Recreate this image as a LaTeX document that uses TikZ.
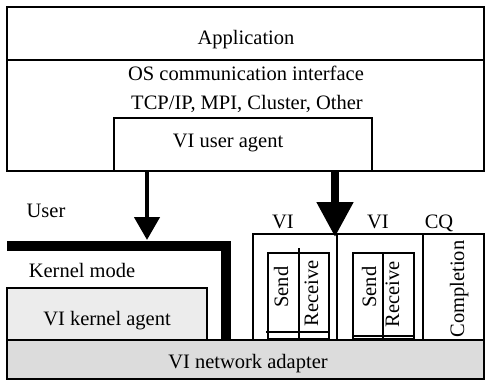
\documentclass[tikz,border=0pt]{standalone}
\usepackage{fontspec}
\setmainfont{Liberation Serif}
\usetikzlibrary{arrows.meta}
\definecolor{kgray}{RGB}{236,236,236}
\definecolor{agray}{RGB}{220,220,220}
\begin{document}
\begin{tikzpicture}[x=1pt,y=-1pt,
  lbl/.style={inner sep=0pt,anchor=base,font=\fontsize{20.5}{24}\selectfont},
  box/.style={draw,line width=1.3pt,inner sep=0pt,outer sep=0pt},
  thin/.style={line width=1.3pt}]
\useasboundingbox (0,0) rectangle (485,380);
% top block
\node[box,anchor=north west,minimum width=477pt,minimum height=53pt] (app) at (7,7) {};
\node[box,anchor=north west,minimum width=477pt,minimum height=111pt] (os) at (7,60) {};
\node[box,anchor=north west,minimum width=258pt,minimum height=53pt] (ua) at (114,118) {};
\node[lbl] (tapp) at (246,45) {Application};
\node[lbl] (tos) at (246,80) {OS communication interface};
\node[lbl] (ttcp) at (247,109) {TCP/IP, MPI, Cluster, Other};
\node[lbl] (tua) at (228,147) {VI user agent};
% labels
\node[lbl] (tuser) at (46,217) {User};
\node[lbl] (tkm) at (82,277) {Kernel mode};
% kernel agent and adapter
\node[box,fill=kgray,anchor=north west,minimum width=200pt,minimum height=52pt] (ka) at (7,288) {};
\node[lbl] (tka) at (107,325) {VI kernel agent};
\node[box,fill=agray,anchor=north west,minimum width=477pt,minimum height=39pt] (na) at (7,340) {};
\node[lbl] (tna) at (248,368) {VI network adapter};
% VI / CQ boxes
\node[box,anchor=north west,minimum width=84pt,minimum height=106pt] (vi1) at (253,234) {};
\node[box,anchor=north west,minimum width=86pt,minimum height=106pt] (vi2) at (337,234) {};
\node[box,anchor=north west,minimum width=61pt,minimum height=106pt] (cq) at (423,234) {};
\node[lbl] (tvi1) at (283,228) {VI};
\node[lbl] (tvi2) at (378,228) {VI};
\node[lbl] (tcq) at (439,228) {CQ};
% inner queues
\node[box,anchor=north west,minimum width=61pt,minimum height=86pt] (q1) at (268,253) {};
\node[box,anchor=north west,minimum width=61pt,minimum height=86pt] (q2) at (353,253) {};
\coordinate (d1t) at (299,248);
\coordinate (d2t) at (383,253);
\draw[thin] (d1t) -- (d1t |- q1.south);
\draw[thin] (d2t) -- (d2t |- q2.south);
\coordinate (l1) at (266,332);
\coordinate (l2) at (353,336);
\draw[thin] (l1) -- (l1 -| q1.east);
\draw[thin] (l2) -- (l2 -| q2.east);
\node[lbl,rotate=90] (s1) at (288,287) {Send};
\node[lbl,rotate=90] (r1) at (318,293) {Receive};
\node[lbl,rotate=90] (s2) at (376,287) {Send};
\node[lbl,rotate=90] (r2) at (399,294) {Receive};
\node[lbl,rotate=90] (tc) at (464,289) {Completion};
% arrows
\coordinate (a1) at (147,240);
\coordinate (a2) at (335,237);
\draw[line width=4.5pt,-{Triangle[length=23pt,width=25pt]}] (ua.south -| a1) -- (a1);
\draw[line width=8pt,-{Triangle[length=35pt,width=35pt]}] (ua.south -| a2) -- (a2);
% thick kernel boundary
\coordinate (k0) at (7,246);
\coordinate (k1) at (226,246);
\coordinate (k2) at (226,341);
\draw[line width=10pt] (k0) -- (k1) -- (k2);
\end{tikzpicture}
\end{document}
